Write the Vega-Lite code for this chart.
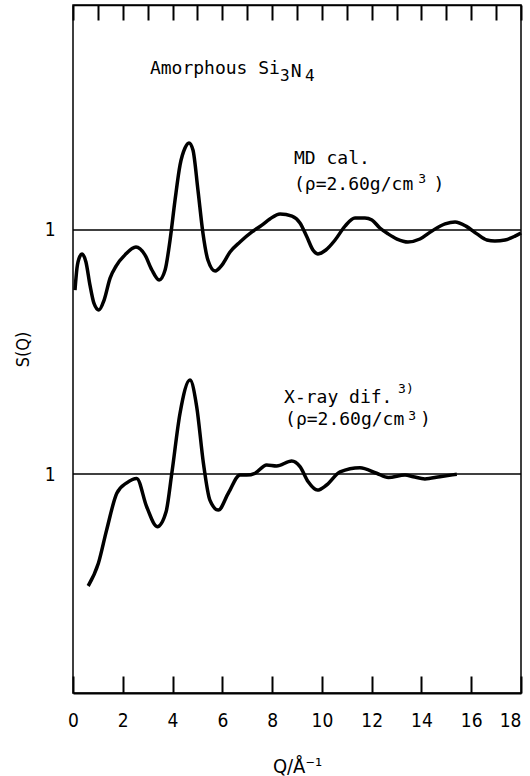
{
  "$schema": "https://vega.github.io/schema/vega-lite/v6.json",
  "width": 448,
  "height": 688,
  "autosize": "none",
  "padding": {"left": 73, "top": 5, "right": 9, "bottom": 83},
  "background": "white",
  "config": {
    "view": {"stroke": "black", "strokeWidth": 1.5},
    "font": "'Liberation Sans Narrow', 'DejaVu Sans Condensed', 'DejaVu Sans'"
  },
  "datasets": {
    "md": [
      {"q": 0.08, "s": 0.754}, {"q": 0.16, "s": 0.844}, {"q": 0.28, "s": 0.893}, {"q": 0.36, "s": 0.902},
      {"q": 0.52, "s": 0.869}, {"q": 0.68, "s": 0.775}, {"q": 0.84, "s": 0.70}, {"q": 1.04, "s": 0.672},
      {"q": 1.25, "s": 0.713}, {"q": 1.49, "s": 0.803}, {"q": 1.73, "s": 0.852}, {"q": 2.09, "s": 0.898},
      {"q": 2.53, "s": 0.930}, {"q": 2.89, "s": 0.898}, {"q": 3.17, "s": 0.836}, {"q": 3.46, "s": 0.795},
      {"q": 3.70, "s": 0.836}, {"q": 3.90, "s": 0.959}, {"q": 4.10, "s": 1.123}, {"q": 4.30, "s": 1.266},
      {"q": 4.50, "s": 1.336}, {"q": 4.66, "s": 1.357}, {"q": 4.82, "s": 1.328}, {"q": 5.02, "s": 1.164},
      {"q": 5.22, "s": 0.988}, {"q": 5.42, "s": 0.877}, {"q": 5.71, "s": 0.832}, {"q": 5.99, "s": 0.857},
      {"q": 6.31, "s": 0.910}, {"q": 6.71, "s": 0.951}, {"q": 7.19, "s": 0.992}, {"q": 7.59, "s": 1.020},
      {"q": 7.91, "s": 1.045}, {"q": 8.32, "s": 1.066}, {"q": 8.80, "s": 1.057}, {"q": 9.12, "s": 1.029},
      {"q": 9.40, "s": 0.971}, {"q": 9.64, "s": 0.918}, {"q": 9.84, "s": 0.902}, {"q": 10.16, "s": 0.918},
      {"q": 10.53, "s": 0.959}, {"q": 10.93, "s": 1.016}, {"q": 11.33, "s": 1.049}, {"q": 11.73, "s": 1.049},
      {"q": 12.01, "s": 1.041}, {"q": 12.33, "s": 1.008}, {"q": 12.66, "s": 0.984}, {"q": 13.02, "s": 0.963},
      {"q": 13.46, "s": 0.951}, {"q": 13.94, "s": 0.963}, {"q": 14.42, "s": 0.996}, {"q": 14.95, "s": 1.025},
      {"q": 15.35, "s": 1.033}, {"q": 15.79, "s": 1.016}, {"q": 16.23, "s": 0.984}, {"q": 16.63, "s": 0.959},
      {"q": 16.95, "s": 0.955}, {"q": 17.36, "s": 0.959}, {"q": 17.76, "s": 0.975}, {"q": 18.0, "s": 0.988}
    ],
    "xray": [
      {"q": 0.61, "s": 0.541}, {"q": 1.02, "s": 0.634}, {"q": 1.35, "s": 0.770}, {"q": 1.76, "s": 0.921},
      {"q": 2.16, "s": 0.964}, {"q": 2.56, "s": 0.982}, {"q": 2.96, "s": 0.866}, {"q": 3.39, "s": 0.784},
      {"q": 3.74, "s": 0.845}, {"q": 3.97, "s": 1.003}, {"q": 4.30, "s": 1.249}, {"q": 4.70, "s": 1.385},
      {"q": 4.97, "s": 1.276}, {"q": 5.24, "s": 1.044}, {"q": 5.50, "s": 0.893}, {"q": 5.84, "s": 0.852},
      {"q": 6.24, "s": 0.921}, {"q": 6.71, "s": 0.996}, {"q": 6.98, "s": 0.996}, {"q": 7.31, "s": 1.003},
      {"q": 7.78, "s": 1.037}, {"q": 8.18, "s": 1.033}, {"q": 8.79, "s": 1.053}, {"q": 9.12, "s": 1.030},
      {"q": 9.45, "s": 0.968}, {"q": 9.82, "s": 0.934}, {"q": 10.19, "s": 0.955}, {"q": 10.73, "s": 1.009},
      {"q": 11.53, "s": 1.026}, {"q": 12.20, "s": 1.003}, {"q": 12.67, "s": 0.986}, {"q": 13.34, "s": 0.996},
      {"q": 13.67, "s": 0.989}, {"q": 14.14, "s": 0.980}, {"q": 14.74, "s": 0.989}, {"q": 15.42, "s": 0.999}
    ],
    "notes": [
      {"q": 3.09, "s": 1.639, "kind": "main", "label": "Amorphous Si"},
      {"q": 8.32, "s": 1.612, "kind": "sub", "label": "3"},
      {"q": 8.75, "s": 1.627, "kind": "main", "label": "N"},
      {"q": 9.32, "s": 1.612, "kind": "sub", "label": "4"},
      {"q": 8.88, "s": 1.270, "kind": "main", "label": "MD cal."},
      {"q": 8.88, "s": 1.164, "kind": "main", "label": "(ρ=2.60g/cm"},
      {"q": 13.87, "s": 1.191, "kind": "sup", "label": "3"},
      {"q": 14.48, "s": 1.164, "kind": "main", "label": ")"},
      {"q": 8.48, "s": 0.291, "kind": "main", "label": "X-ray dif."},
      {"q": 13.06, "s": 0.331, "kind": "sup", "label": "3)"},
      {"q": 8.52, "s": 0.201, "kind": "main", "label": "(ρ=2.60g/cm"},
      {"q": 13.47, "s": 0.221, "kind": "sup", "label": "3"},
      {"q": 13.94, "s": 0.201, "kind": "main", "label": ")"}
    ]
  },
  "layer": [
    {
      "layer": [
        {
          "data": {"values": [{"s": 1}]},
          "mark": {"type": "rule", "color": "black", "strokeWidth": 1.5},
          "encoding": {
            "y": {"field": "s", "type": "quantitative", "scale": {"domain": [-0.8975, 1.9221], "nice": false, "zero": false}}
          }
        },
        {
          "data": {"name": "md"},
          "mark": {"type": "line", "interpolate": "monotone", "color": "black", "strokeWidth": 3.5},
          "encoding": {
            "x": {
              "field": "q", "type": "quantitative",
              "scale": {"domain": [0, 18], "nice": false, "zero": false},
              "axis": {
                "orient": "bottom",
                "values": [0,1,2,3,4,5,6,7,8,9,10,11,12,13,14,15,16,17,18],
                "labelExpr": "datum.value % 2 == 0 ? datum.label : ''",
                "labelAlign": {"condition": {"test": "datum.value == 18", "value": "right"}, "value": "center"},
                "grid": false,
                "tickSize": -17, "tickWidth": 2, "tickColor": "black",
                "domainColor": "black", "domainWidth": 2,
                "labelFontSize": 19, "labelColor": "black", "labelPadding": 35, "labelFlush": false,
                "title": "Q/Å⁻¹", "titleFontSize": 20, "titleFontWeight": "normal", "titleColor": "black", "titlePadding": 26
              }
            },
            "y": {
              "field": "s", "type": "quantitative",
              "scale": {"domain": [-0.8975, 1.9221], "nice": false, "zero": false},
              "axis": {
                "orient": "left", "values": [1], "format": "d", "grid": false, "domain": false,
                "ticks": false, "labelFontSize": 19, "labelColor": "black", "labelPadding": 18,
                "title": "S(Q)", "titleFontSize": 18, "titleFontWeight": "normal", "titleColor": "black", "titlePadding": 12
              }
            }
          }
        },
        {
          "data": {"name": "notes"},
          "transform": [{"filter": "datum.kind == 'main'"}],
          "mark": {"type": "text", "align": "left", "baseline": "alphabetic", "font": "DejaVu Sans Mono", "fontSize": 18, "color": "black"},
          "encoding": {
            "x": {"field": "q", "type": "quantitative"},
            "y": {"field": "s", "type": "quantitative", "scale": {"domain": [-0.8975, 1.9221], "nice": false, "zero": false}},
            "text": {"field": "label"}
          }
        },
        {
          "data": {"name": "notes"},
          "transform": [{"filter": "datum.kind == 'sub'"}],
          "mark": {"type": "text", "align": "left", "baseline": "alphabetic", "font": "DejaVu Sans Mono", "fontSize": 16, "color": "black"},
          "encoding": {
            "x": {"field": "q", "type": "quantitative"},
            "y": {"field": "s", "type": "quantitative", "scale": {"domain": [-0.8975, 1.9221], "nice": false, "zero": false}},
            "text": {"field": "label"}
          }
        },
        {
          "data": {"name": "notes"},
          "transform": [{"filter": "datum.kind == 'sup'"}],
          "mark": {"type": "text", "align": "left", "baseline": "alphabetic", "font": "DejaVu Sans Mono", "fontSize": 13, "color": "black"},
          "encoding": {
            "x": {"field": "q", "type": "quantitative"},
            "y": {"field": "s", "type": "quantitative", "scale": {"domain": [-0.8975, 1.9221], "nice": false, "zero": false}},
            "text": {"field": "label"}
          }
        }
      ]
    },
    {
      "layer": [
        {
          "data": {"values": [{"s": 1}]},
          "mark": {"type": "rule", "color": "black", "strokeWidth": 1.5},
          "encoding": {
            "y": {"field": "s", "type": "quantitative", "scale": {"domain": [0.1025, 2.9221], "nice": false, "zero": false}}
          }
        },
        {
          "data": {"name": "xray"},
          "mark": {"type": "line", "interpolate": "monotone", "color": "black", "strokeWidth": 3.5},
          "encoding": {
            "x": {
              "field": "q", "type": "quantitative",
              "scale": {"domain": [0, 18], "nice": false, "zero": false},
              "axis": {
                "orient": "top",
                "values": [0,1,2,3,4,5,6,7,8,9,10,11,12,13,14,15,16,17,18],
                "labels": false, "grid": false,
                "tickSize": -15, "tickWidth": 2, "tickColor": "black",
                "domainColor": "black", "domainWidth": 1.5,
                "title": null
              }
            },
            "y": {
              "field": "s", "type": "quantitative",
              "scale": {"domain": [0.1025, 2.9221], "nice": false, "zero": false},
              "axis": {
                "orient": "left", "values": [1], "format": "d", "grid": false, "domain": false,
                "ticks": false, "labelFontSize": 19, "labelColor": "black", "labelPadding": 18,
                "title": null
              }
            }
          }
        }
      ]
    }
  ],
  "resolve": {"scale": {"y": "independent"}, "axis": {"x": "independent", "y": "independent"}}
}
